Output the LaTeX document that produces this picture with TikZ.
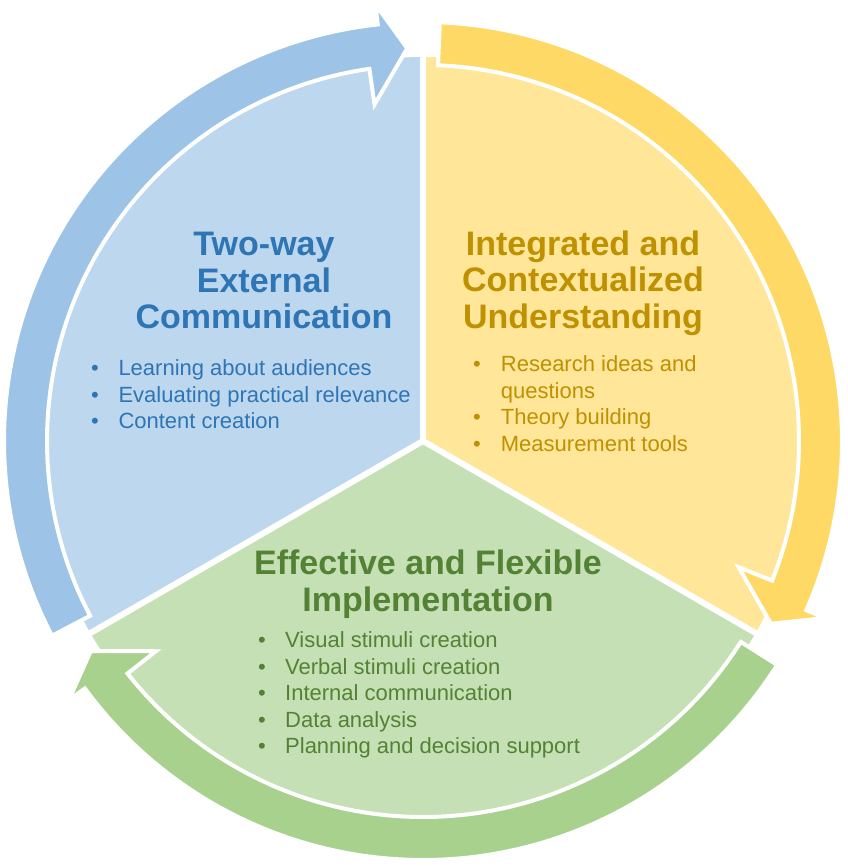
\documentclass[tikz,border=0pt]{standalone}
\usepackage{fontspec}
\setmainfont{Liberation Sans}
\definecolor{bluesec}{HTML}{BDD7EE}
\definecolor{bluearr}{HTML}{9DC3E6}
\definecolor{bluetxt}{HTML}{2E75B6}
\definecolor{yelsec}{HTML}{FFE699}
\definecolor{yelarr}{HTML}{FFD966}
\definecolor{yeltxt}{HTML}{BF9000}
\definecolor{grnsec}{HTML}{C5E0B4}
\definecolor{grnarr}{HTML}{A9D18E}
\definecolor{grntxt}{HTML}{548235}
% #1 colour, #2 tail angle, #3 outer barb angle, #4 inner barb angle, #5 tip angle
\newcommand{\cycarrow}[5]{%
  \filldraw[fill=#1, arrowshape]
    ([shift={(O)}]#2:376) -- ([shift={(O)}]#2:419)
    arc[start angle=#2, end angle=#3, radius=419]
    -- ([shift={(O)}]#3:439) -- ([shift={(O)}]#5:393) -- ([shift={(O)}]#4:340)
    -- ([shift={(O)}]#4:376)
    arc[start angle=#4, end angle=#2, radius=376] -- cycle;}
\begin{document}
\begin{tikzpicture}[x=1pt,y=1pt,
  title/.style={font=\fontsize{34}{36.5}\selectfont\bfseries, anchor=base, inner sep=0pt},
  item/.style={font=\fontsize{22}{26.5}\selectfont, anchor=base west, inner sep=0pt},
  bul/.style={font=\fontsize{22}{26.5}\selectfont, anchor=base, inner sep=0pt},
  arrowshape/.style={draw=white, line width=4pt, line join=miter},
  sep/.style={draw=white, line width=6pt}
]
\fill[white] (0,0) rectangle (847,-866);
\useasboundingbox (0,0) rectangle (847,-866);
\coordinate (O) at (423,-441);

% sectors
\fill[bluesec] (O) -- ([shift={(O)}]210:384) arc[start angle=210, end angle=90, radius=384] -- cycle;
\fill[yelsec] (O) -- ([shift={(O)}]90:384) arc[start angle=90, end angle=-30, radius=384] -- cycle;
\fill[grnsec] (O) -- ([shift={(O)}]-30:384) arc[start angle=-30, end angle=-150, radius=384] -- cycle;
\coordinate (s1) at ([shift={(O)}]90:392);
\coordinate (s2) at ([shift={(O)}]210:392);
\coordinate (s3) at ([shift={(O)}]-30:392);
\draw[sep] (O) -- (s1);
\draw[sep] (O) -- (s2);
\draw[sep] (O) -- (s3);

% arrows
\cycarrow{bluearr}{207.7}{96.2}{98.2}{92.3}
\cycarrow{yelarr}{87.7}{-23.8}{-21.8}{-27.7}
\cycarrow{grnarr}{-32.3}{-143.8}{-141.8}{-147.7}

% blue text
\node[title, bluetxt] (bt1) at (264,-255.5) {Two-way};
\node[title, bluetxt] (bt2) at (264,-292) {External};
\node[title, bluetxt] (bt3) at (264,-328.5) {Communication};
\node[bul, bluetxt] (bb1) at (95,-375.7) {•};
\node[bul, bluetxt] (bb2) at (95,-402.2) {•};
\node[bul, bluetxt] (bb3) at (95,-428.7) {•};
\node[item, bluetxt] (bi1) at (118.3,-375.7) {Learning about audiences};
\node[item, bluetxt] (bi2) at (118.3,-402.2) {Evaluating practical relevance};
\node[item, bluetxt] (bi3) at (118.3,-428.7) {Content creation};

% yellow text
\node[title, yeltxt] (yt1) at (583,-255) {Integrated and};
\node[title, yeltxt] (yt2) at (583,-291.5) {Contextualized};
\node[title, yeltxt] (yt3) at (583,-328) {Understanding};
\node[bul, yeltxt] (yb1) at (477,-371.5) {•};
\node[bul, yeltxt] (yb2) at (477,-424.5) {•};
\node[bul, yeltxt] (yb3) at (477,-451) {•};
\node[item, yeltxt] (yi1) at (500.7,-371.5) {Research ideas and};
\node[item, yeltxt] (yi1b) at (500.7,-398) {questions};
\node[item, yeltxt] (yi2) at (500.7,-424.5) {Theory building};
\node[item, yeltxt] (yi3) at (500.7,-451) {Measurement tools};

% green text
\node[title, grntxt] (gt1) at (428,-574) {Effective and Flexible};
\node[title, grntxt] (gt2) at (428,-611) {Implementation};
\node[bul, grntxt] (gb1) at (262,-647.7) {•};
\node[bul, grntxt] (gb2) at (262,-674.2) {•};
\node[bul, grntxt] (gb3) at (262,-700.7) {•};
\node[bul, grntxt] (gb4) at (262,-727.2) {•};
\node[bul, grntxt] (gb5) at (262,-753.7) {•};
\node[item, grntxt] (gi1) at (285,-647.7) {Visual stimuli creation};
\node[item, grntxt] (gi2) at (285,-674.2) {Verbal stimuli creation};
\node[item, grntxt] (gi3) at (285,-700.7) {Internal communication};
\node[item, grntxt] (gi4) at (285,-727.2) {Data analysis};
\node[item, grntxt] (gi5) at (285,-753.7) {Planning and decision support};
\end{tikzpicture}
\end{document}
